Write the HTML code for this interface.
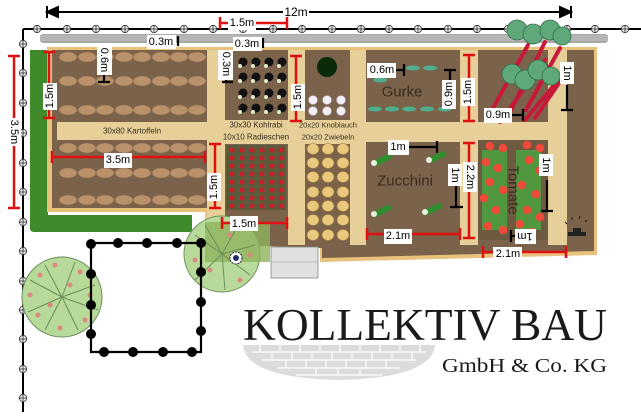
<!DOCTYPE html>
<html><head><meta charset="utf-8"><style>
html,body{margin:0;padding:0;background:#fff;width:641px;height:418px;overflow:hidden}
svg{display:block;font-family:"Liberation Sans",sans-serif;font-size:11px}
.lb{fill:#fff}
.t{text-anchor:middle;dominant-baseline:central}
.r{stroke:#e01010;stroke-width:2.5;fill:none}
.k{stroke:#000;stroke-width:2.2;fill:none}
</style></head><body>
<svg width="641" height="418" viewBox="0 0 641 418" xmlns="http://www.w3.org/2000/svg">
<defs>
<g id="fm"><circle r="3.6" fill="#fff" stroke="#444" stroke-width="1"/><path d="M-3.6 0H3.6M0 -3.6V3.6" stroke="#444" stroke-width="1"/></g>
<ellipse id="pot" rx="9" ry="5" fill="#b9916a" stroke="#8a6a4a" stroke-width="0.6"/>
<g id="kr"><circle r="4.5" fill="#111"/><circle cx="-3" cy="4" r="2" fill="#dfeccc"/></g>
<circle id="rad" r="2.6" fill="#c8202a"/>
<ellipse id="oni" rx="6" ry="5.5" fill="#e9c77c" stroke="#9a7a3a" stroke-width="0.6"/>
<ellipse id="gur" rx="7" ry="2.5" fill="#4fae8c"/>
<g id="zuc"><rect x="-10" y="-3" width="20" height="6" rx="3" fill="#2f8f2f" transform="rotate(-25)"/><circle cx="-8" cy="3" r="3" fill="#e8f0e0"/></g>
<circle id="tom" r="4.3" fill="#f04a3a"/>
<g id="dt"><circle r="5" fill="#000"/></g>
<g id="rrow"><use href="#rad" x="232" y="0"/><use href="#rad" x="242" y="0"/><use href="#rad" x="252" y="0"/><use href="#rad" x="262" y="0"/><use href="#rad" x="272" y="0"/><use href="#rad" x="281" y="0"/></g>
<g id="orow"><use href="#oni" x="313" y="0"/><use href="#oni" x="328" y="0"/><use href="#oni" x="343" y="0"/></g>
</defs>

<line x1="47" y1="12" x2="571" y2="12" stroke="#000" stroke-width="2"/>
<path d="M47 6V18M47 12L58 7V17Z" fill="#000" stroke="#000" stroke-width="2"/>
<path d="M571 6V18M571 12L560 7V17Z" fill="#000" stroke="#000" stroke-width="2"/>
<rect x="283" y="5" width="26" height="14" fill="#fff"/><text x="296" y="12" class="t" font-size="12">12m</text>

<line x1="23" y1="29" x2="641" y2="29" stroke="#000" stroke-width="2"/>
<line x1="23" y1="29" x2="23" y2="412" stroke="#000" stroke-width="2"/>
<g>
<use href="#fm" x="37" y="29"/><use href="#fm" x="67" y="29"/><use href="#fm" x="96" y="29"/><use href="#fm" x="125" y="29"/><use href="#fm" x="154" y="29"/><use href="#fm" x="184" y="29"/><use href="#fm" x="213" y="29"/><use href="#fm" x="243" y="29"/><use href="#fm" x="273" y="29"/><use href="#fm" x="302" y="29"/><use href="#fm" x="332" y="29"/><use href="#fm" x="361" y="29"/><use href="#fm" x="389" y="29"/><use href="#fm" x="418" y="29"/><use href="#fm" x="448" y="29"/><use href="#fm" x="477" y="29"/><use href="#fm" x="508" y="29"/><use href="#fm" x="537" y="29"/><use href="#fm" x="567" y="29"/><use href="#fm" x="595" y="29"/><use href="#fm" x="625" y="29"/>
<use href="#fm" x="23" y="44"/><use href="#fm" x="23" y="73"/><use href="#fm" x="23" y="103"/><use href="#fm" x="23" y="133"/><use href="#fm" x="23" y="163"/><use href="#fm" x="23" y="192"/><use href="#fm" x="23" y="222"/><use href="#fm" x="23" y="251"/><use href="#fm" x="23" y="281"/><use href="#fm" x="23" y="310"/><use href="#fm" x="23" y="339"/><use href="#fm" x="23" y="369"/><use href="#fm" x="23" y="398"/>
</g>

<rect x="40" y="34" width="568" height="9" rx="3" fill="#a8a8a8"/>
<rect x="40" y="35" width="568" height="6" fill="#bcbcbc" opacity="0.7"/>

<path d="M30 50H48V215H192V232H34Q30 232 30 228Z" fill="#3f8a2a"/>

<polygon points="47,47 597,47 597,255 320,262 320,248 205,245 205,212 47,212" fill="#e8c27a"/>
<polygon points="52,50 594,50 594,251 322,258 322,248 210,244 210,208 52,208" fill="#7b624a"/>
<rect x="57" y="122" width="150" height="18" fill="#e6cf98"/>
<rect x="207" y="50" width="18" height="195" fill="#e6cf98"/>
<rect x="288" y="50" width="17" height="195" fill="#e6cf98"/>
<rect x="350" y="50" width="16" height="195" fill="#e6cf98"/>
<rect x="305" y="122" width="260" height="20" fill="#e6cf98"/>
<rect x="460" y="50" width="18" height="195" fill="#e6cf98"/>
<rect x="548" y="50" width="19" height="195" fill="#e6cf98"/>
<rect x="225" y="120" width="63" height="24" fill="#e6cf98"/>
<rect x="305" y="120" width="45" height="24" fill="#e6cf98"/>
<text x="132" y="131" class="t" font-size="8" fill="#3a2e20">30x80 Kartoffeln</text>
<text x="256" y="125" class="t" font-size="8" fill="#3a2e20">30x30 Kohlrabi</text>
<text x="256" y="137" class="t" font-size="8" fill="#3a2e20">10x10 Radieschen</text>
<text x="328" y="125" class="t" font-size="7.5" fill="#3a2e20">20x20 Knoblauch</text>
<text x="328" y="137" class="t" font-size="7.5" fill="#3a2e20">20x20 Zwiebeln</text>

<g>
<use href="#pot" x="68" y="57"/><use href="#pot" x="87" y="57"/><use href="#pot" x="105" y="57"/><use href="#pot" x="124" y="57"/><use href="#pot" x="142" y="57"/><use href="#pot" x="161" y="57"/><use href="#pot" x="179" y="57"/><use href="#pot" x="197" y="57"/>
<use href="#pot" x="68" y="81"/><use href="#pot" x="87" y="81"/><use href="#pot" x="105" y="81"/><use href="#pot" x="124" y="81"/><use href="#pot" x="142" y="81"/><use href="#pot" x="161" y="81"/><use href="#pot" x="179" y="81"/><use href="#pot" x="197" y="81"/>
<use href="#pot" x="68" y="110"/><use href="#pot" x="87" y="110"/><use href="#pot" x="105" y="110"/><use href="#pot" x="124" y="110"/><use href="#pot" x="142" y="110"/><use href="#pot" x="161" y="110"/><use href="#pot" x="179" y="110"/><use href="#pot" x="197" y="110"/>
<use href="#pot" x="68" y="148"/><use href="#pot" x="87" y="148"/><use href="#pot" x="105" y="148"/><use href="#pot" x="124" y="148"/><use href="#pot" x="142" y="148"/><use href="#pot" x="161" y="148"/><use href="#pot" x="179" y="148"/><use href="#pot" x="197" y="148"/>
<use href="#pot" x="68" y="173"/><use href="#pot" x="87" y="173"/><use href="#pot" x="105" y="173"/><use href="#pot" x="124" y="173"/><use href="#pot" x="142" y="173"/><use href="#pot" x="161" y="173"/><use href="#pot" x="179" y="173"/><use href="#pot" x="197" y="173"/>
<use href="#pot" x="68" y="200"/><use href="#pot" x="87" y="200"/><use href="#pot" x="105" y="200"/><use href="#pot" x="124" y="200"/><use href="#pot" x="142" y="200"/><use href="#pot" x="161" y="200"/><use href="#pot" x="179" y="200"/><use href="#pot" x="197" y="200"/>
</g>
<g>
<use href="#kr" x="243" y="62"/><use href="#kr" x="256" y="62"/><use href="#kr" x="269" y="62"/><use href="#kr" x="282" y="62"/>
<use href="#kr" x="243" y="77"/><use href="#kr" x="256" y="77"/><use href="#kr" x="269" y="77"/><use href="#kr" x="282" y="77"/>
<use href="#kr" x="243" y="93"/><use href="#kr" x="256" y="93"/><use href="#kr" x="269" y="93"/><use href="#kr" x="282" y="93"/>
<use href="#kr" x="243" y="108"/><use href="#kr" x="256" y="108"/><use href="#kr" x="269" y="108"/><use href="#kr" x="282" y="108"/>
</g>
<rect x="226" y="145" width="60" height="65" fill="#5b5a3a"/>
<g>
<use href="#rrow" y="150"/><use href="#rrow" y="158"/><use href="#rrow" y="166"/><use href="#rrow" y="174"/><use href="#rrow" y="182"/><use href="#rrow" y="190"/><use href="#rrow" y="198"/><use href="#rrow" y="206"/>
</g>
<circle cx="327" cy="67" r="10" fill="#0a2a0a"/>
<g fill="#f2eef4" stroke="#a9a0b5" stroke-width="0.6">
<circle cx="313" cy="100" r="4.5"/><circle cx="327" cy="100" r="4.5"/><circle cx="341" cy="100" r="4.5"/>
<circle cx="313" cy="111" r="4.5"/><circle cx="327" cy="111" r="4.5"/><circle cx="341" cy="111" r="4.5"/>
</g>
<g>
<use href="#orow" y="149"/><use href="#orow" y="163"/><use href="#orow" y="177"/><use href="#orow" y="192"/><use href="#orow" y="206"/><use href="#orow" y="220"/><use href="#orow" y="235"/>
</g>
<g><use href="#gur" x="413" y="68"/><use href="#gur" x="430" y="68"/><use href="#gur" x="409" y="109"/><use href="#gur" x="427" y="109"/><use href="#gur" x="445" y="109"/><use href="#gur" x="375" y="109"/><use href="#gur" x="392" y="109"/><use href="#gur" x="380" y="80"/></g>
<text x="402" y="92" class="t" font-size="15" fill="#3a2e20">Gurke</text>
<g><use href="#zuc" x="382" y="160"/><use href="#zuc" x="437" y="157"/><use href="#zuc" x="382" y="211"/><use href="#zuc" x="433" y="209"/></g>
<text x="405" y="181" class="t" font-size="15" fill="#3a2e20">Zucchini</text>
<rect x="478" y="140" width="70" height="100" fill="#6d5a40"/>
<g fill="#3fbf3f">
<rect x="482" y="150" width="25" height="80" opacity="0.6"/><rect x="516" y="150" width="25" height="80" opacity="0.6"/>
</g>
<g>
<use href="#tom" x="490" y="146"/><use href="#tom" x="503" y="148"/><use href="#tom" x="527" y="145"/><use href="#tom" x="540" y="148"/>
<use href="#tom" x="486" y="162"/><use href="#tom" x="498" y="168"/><use href="#tom" x="529" y="160"/><use href="#tom" x="540" y="170"/>
<use href="#tom" x="490" y="182"/><use href="#tom" x="503" y="190"/><use href="#tom" x="522" y="185"/><use href="#tom" x="536" y="194"/>
<use href="#tom" x="484" y="198"/><use href="#tom" x="496" y="210"/><use href="#tom" x="527" y="210"/><use href="#tom" x="540" y="217"/>
<use href="#tom" x="488" y="226"/><use href="#tom" x="503" y="230"/><use href="#tom" x="520" y="224"/><use href="#tom" x="532" y="232"/>
</g>
<text x="513" y="190" class="t" font-size="15" fill="#3a2e20" transform="rotate(90 513 190)">Tomate</text>
<rect x="568" y="232" width="18" height="4" fill="#222"/><rect x="573" y="228" width="8" height="4" fill="#222"/>
<path d="M567 224l-2 -2M572 220v-3M579 219l1 -3M585 222l2 -2" stroke="#222" stroke-width="1"/>

<g stroke="#c8183a" stroke-width="4" stroke-linecap="round">
<path d="M528 45L492 110M545 42L510 112M560 48L526 110M545 60L500 122M568 70L535 118M560 78L525 120"/>
</g>
<g fill="#5fa87a" stroke="#2f6f4a" stroke-width="0.8">
<circle cx="517" cy="30" r="10"/><circle cx="533" cy="34" r="10"/><circle cx="550" cy="30" r="10"/><circle cx="562" cy="36" r="9"/>
<circle cx="512" cy="74" r="10"/><circle cx="525" cy="80" r="10"/><circle cx="538" cy="70" r="10"/><circle cx="551" cy="76" r="9"/>
</g>

<g>
<circle cx="62" cy="297" r="40" fill="#b7d99a" stroke="#6a8f5a" stroke-width="1"/>
<g stroke="#6a8f5a" stroke-width="1"><path d="M62 297L30 280M62 297L45 265M62 297L75 262M62 297L95 285M62 297L98 310M62 297L78 330M62 297L45 330M62 297L28 312"/></g>
<circle cx="222" cy="254" r="38" fill="#b7d99a" stroke="#6a8f5a" stroke-width="1"/>
<rect x="205" y="222" width="65" height="40" fill="#8fb35c" opacity="0.8"/>
<g stroke="#6a8f5a" stroke-width="1"><path d="M222 254L195 235M222 254L205 225M222 254L240 222M222 254L255 245M222 254L250 275M222 254L225 290M222 254L195 280"/></g>
<g fill="#d98a7a">
<circle cx="40" cy="275" r="2.5"/><circle cx="55" cy="265" r="2.5"/><circle cx="80" cy="272" r="2.5"/><circle cx="90" cy="295" r="2.5"/><circle cx="85" cy="320" r="2.5"/><circle cx="60" cy="328" r="2.5"/><circle cx="38" cy="315" r="2.5"/><circle cx="30" cy="295" r="2.5"/><circle cx="70" cy="285" r="2.5"/><circle cx="50" cy="305" r="2.5"/>
<circle cx="200" cy="240" r="2.5"/><circle cx="210" cy="270" r="2.5"/><circle cx="240" cy="280" r="2.5"/><circle cx="250" cy="255" r="2.5"/><circle cx="230" cy="235" r="2.5"/><circle cx="195" cy="260" r="2.5"/>
</g>
<circle cx="236" cy="258" r="6" fill="#fff" stroke="#223" stroke-width="1" stroke-dasharray="2 1"/><circle cx="236" cy="258" r="3" fill="#1a2a6a"/>
</g>
<rect x="271" y="247" width="47" height="31" fill="#e0e0e0" stroke="#888" stroke-width="0.8"/>
<line x1="271" y1="262" x2="318" y2="262" stroke="#999" stroke-width="0.6"/>

<path d="M91 254V352H201V243H91Z" fill="none" stroke="#000" stroke-width="2.2"/>
<g>
<use href="#dt" x="91" y="244"/><use href="#dt" x="118" y="243"/><use href="#dt" x="147" y="243"/><use href="#dt" x="177" y="243"/><use href="#dt" x="201" y="243"/>
<use href="#dt" x="91" y="274"/><use href="#dt" x="91" y="305"/><use href="#dt" x="91" y="334"/>
<use href="#dt" x="201" y="272"/><use href="#dt" x="201" y="302"/><use href="#dt" x="201" y="331"/>
<use href="#dt" x="104" y="352"/><use href="#dt" x="133" y="352"/><use href="#dt" x="163" y="352"/><use href="#dt" x="192" y="352"/>
</g>

<path d="M243 345H435Q432 378 339 380Q246 378 243 345Z" fill="#dcdcdc"/>
<g stroke="#fff" stroke-width="1.2" fill="none">
<path d="M252 352H426M262 360H416M278 368H400M296 375H382"/>
<path d="M260 345v7M280 345v7M300 345v7M320 345v7M340 345v7M360 345v7M380 345v7M400 345v7M420 345v7M272 352v8M292 352v8M312 352v8M332 352v8M352 352v8M372 352v8M392 352v8M412 352v8M286 360v8M306 360v8M326 360v8M346 360v8M366 360v8M386 360v8M316 368v8M338 368v8M360 368v8"/>
</g>

<text x="243" y="340" font-family="Liberation Serif,serif" font-size="45" fill="#1a1a1a" textLength="364" lengthAdjust="spacingAndGlyphs">KOLLEKTIV BAU</text>
<text x="442" y="372" font-family="Liberation Serif,serif" font-size="20" fill="#1a1a1a" textLength="165" lengthAdjust="spacingAndGlyphs">GmbH &amp; Co. KG</text>

<g class="r">
<path d="M14 56V208M8 56H20M8 208H20"/>
<path d="M220 23H287M220 17V29M287 17V29"/>
<path d="M49 52V118M43 52H55M43 118H55"/>
<path d="M52 157H205M52 151V163M205 151V163"/>
<path d="M215 144V208M209 144H221M209 208H221"/>
<path d="M222 223H287M222 217V229M287 217V229"/>
<path d="M296 56V121M290 56H302M290 121H302"/>
<path d="M469 55V121M463 55H475M463 121H475"/>
<path d="M469 143V238M463 143H475M463 238H475"/>
<path d="M367 234H460M367 228V240M460 228V240"/>
<path d="M483 252H566M483 246V258M566 246V258"/>
</g>
<g class="k">
<path d="M178 36V46"/><path d="M263 38V48"/>
<path d="M104 75V82M98 82H110"/>
<path d="M226 78V82M222 82H233"/>
<path d="M396 70H404M404 64V76"/>
<path d="M450 70V108M444 70H456"/>
<path d="M510 115H523M523 109V121"/>
<path d="M567 85V110M561 110H573"/>
<path d="M409 147H437M437 141V153"/>
<path d="M456 185V207M450 207H463"/>
<path d="M547 180V211M541 211H553"/>
<path d="M511 236H520M511 230V242"/>
</g>
<g>
<rect x="228" y="16" width="28" height="14" class="lb"/><text x="242" y="23" class="t">1.5m</text>
<rect x="147" y="35" width="29" height="14" class="lb"/><text x="161" y="42" class="t">0.3m</text>
<rect x="233" y="37" width="29" height="14" class="lb"/><text x="247" y="44" class="t">0.3m</text>
<rect x="97" y="46" width="15" height="29" class="lb"/><text x="104" y="60" class="t" transform="rotate(90 104 60)">0.6m</text>
<rect x="218" y="50" width="15" height="30" class="lb"/><text x="226" y="64" class="t" transform="rotate(90 226 64)">0.3m</text>
<rect x="43" y="83" width="14" height="27" class="lb"/><text x="50" y="96" class="t" transform="rotate(-90 50 96)">1.5m</text>
<rect x="8" y="118" width="13" height="28" class="lb"/><text x="14" y="132" class="t" transform="rotate(90 14 132)">3.5m</text>
<rect x="104" y="153" width="28" height="15" class="lb"/><text x="118" y="160" class="t">3.5m</text>
<rect x="207" y="173" width="14" height="28" class="lb"/><text x="214" y="187" class="t" transform="rotate(-90 214 187)">1.5m</text>
<rect x="230" y="216" width="28" height="15" class="lb"/><text x="244" y="224" class="t">1.5m</text>
<rect x="291" y="84" width="14" height="27" class="lb"/><text x="298" y="97" class="t" transform="rotate(-90 298 97)">1.5m</text>
<rect x="367" y="63" width="29" height="15" class="lb"/><text x="382" y="70" class="t">0.6m</text>
<rect x="442" y="80" width="14" height="29" class="lb"/><text x="449" y="94" class="t" transform="rotate(-90 449 94)">0.9m</text>
<rect x="461" y="78" width="14" height="28" class="lb"/><text x="468" y="92" class="t" transform="rotate(-90 468 92)">1.5m</text>
<rect x="484" y="108" width="28" height="15" class="lb"/><text x="498" y="115" class="t">0.9m</text>
<rect x="560" y="62" width="14" height="22" class="lb"/><text x="567" y="73" class="t" transform="rotate(90 567 73)">1m</text>
<rect x="388" y="140" width="21" height="15" class="lb"/><text x="398" y="147" class="t">1m</text>
<rect x="448" y="164" width="14" height="22" class="lb"/><text x="455" y="175" class="t" transform="rotate(90 455 175)">1m</text>
<rect x="463" y="162" width="14" height="30" class="lb"/><text x="470" y="177" class="t" transform="rotate(90 470 177)">2.2m</text>
<rect x="384" y="229" width="28" height="15" class="lb"/><text x="398" y="236" class="t">2.1m</text>
<rect x="539" y="154" width="14" height="22" class="lb"/><text x="546" y="165" class="t" transform="rotate(90 546 165)">1m</text>
<rect x="515" y="229" width="21" height="15" class="lb"/><text x="525" y="236" class="t" transform="rotate(180 525 236)">1m</text>
<rect x="493" y="247" width="29" height="15" class="lb"/><text x="508" y="254" class="t">2.1m</text>
</g>
</svg>
</body></html>
